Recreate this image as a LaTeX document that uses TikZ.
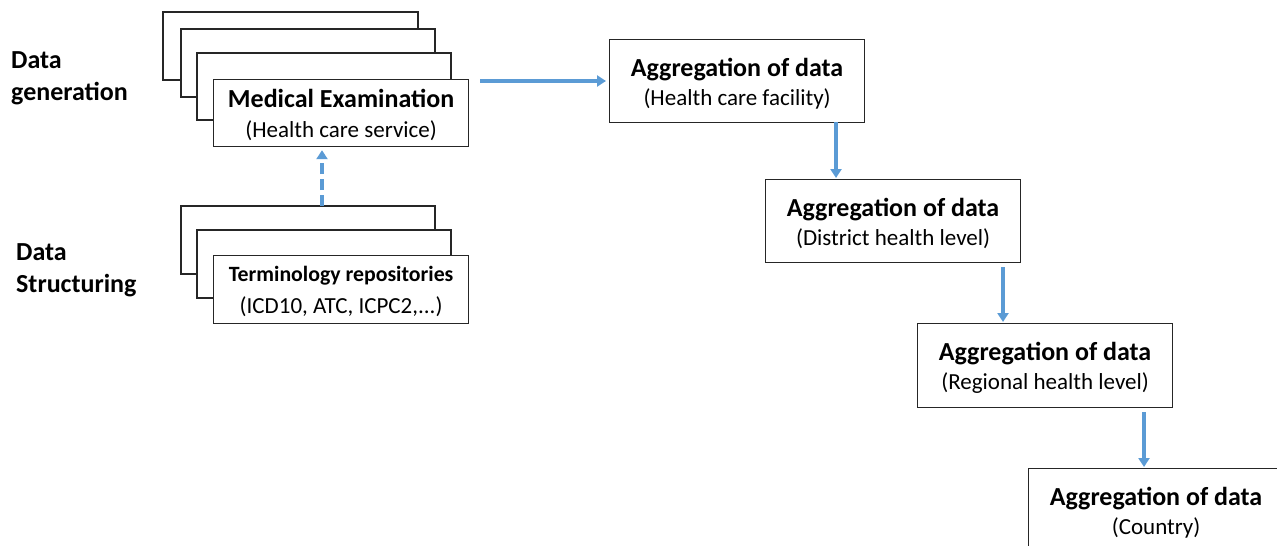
\documentclass[tikz,border=0pt]{standalone}
\usepackage{fontspec}
\setmainfont{Carlito}
\usetikzlibrary{arrows.meta}
\definecolor{flowblue}{HTML}{5B9BD5}
\tikzset{
  box/.style={draw=black!85, line width=1.2pt, fill=white, anchor=north west, align=center, inner sep=0pt},
  backbox/.style={draw=black!85, line width=1.2pt, fill=white},
  flow/.style={draw=flowblue, line width=3.2pt, -{Triangle[width=11pt,length=9pt]}},
  dflow/.style={flow, dash pattern=on 11pt off 5pt},
  side/.style={anchor=north west, align=left, font=\fontsize{26}{32}\selectfont\bfseries, inner sep=0pt}
}
% #1 size, #2 title, #3 subtitle, #4 strut height of title, #5 extra gap
\newcommand{\twolines}[5]{{\fontsize{#1}{#1}\selectfont\bfseries\rule[-7pt]{0pt}{#4}#2}\\[#5]{\fontsize{23}{23}\selectfont\rule[-6pt]{0pt}{18pt}#3}}
\begin{document}
\begin{tikzpicture}[x=1pt,y=-1pt]
\useasboundingbox (0,0) rectangle (1277,546);
% side labels
\node[side] (lgen) at (11,51) {Data\\generation};
\node[side] (lstr) at (16,243) {Data\\Structuring};
% medical examination stack
\draw[backbox] (163,12) rectangle (418,80);
\draw[backbox] (181,29) rectangle (435,97);
\draw[backbox] (197,53) rectangle (451,120);
\node[box, minimum width=255pt, minimum height=67pt] (med) at (213,79)
  {\twolines{26}{Medical Examination}{(Health care service)}{32pt}{5pt}};
% terminology stack
\draw[backbox] (181,206) rectangle (435,274);
\draw[backbox] (197,230) rectangle (451,298);
\node[box, minimum width=255pt, minimum height=68pt] (term) at (213,255)
  {\twolines{21.8}{Terminology repositories}{(ICD10, ATC, ICPC2,...)}{28pt}{7pt}};
% aggregation boxes
\node[box, minimum width=255pt, minimum height=83pt] (agg1) at (609,39)
  {\twolines{26}{Aggregation of data}{(Health care facility)}{32pt}{4pt}};
\node[box, minimum width=255pt, minimum height=83pt] (agg2) at (765,179)
  {\twolines{26}{Aggregation of data}{(District health level)}{32pt}{4pt}};
\node[box, minimum width=255pt, minimum height=84pt] (agg3) at (917,323)
  {\twolines{26}{Aggregation of data}{(Regional health level)}{32pt}{4pt}};
\node[box, minimum width=255pt, minimum height=84pt] (agg4) at (1028,468)
  {\twolines{26}{Aggregation of data}{(Country)}{32pt}{4pt}};
% connectors
\coordinate (dstart) at (322,206);
\draw[dflow] (dstart) -- ([yshift=-3pt]dstart |- med.south);
\coordinate (hstart) at (480,81);
\draw[flow] (hstart) -- ([xshift=-3pt]hstart -| agg1.west);
\coordinate (v1) at (836,122);
\draw[flow] (v1) -- ([yshift=1pt]v1 |- agg2.north);
\coordinate (v2) at (1003,267);
\draw[flow] (v2) -- ([yshift=1pt]v2 |- agg3.north);
\coordinate (v3) at (1144,412);
\draw[flow] (v3) -- ([yshift=1pt]v3 |- agg4.north);
\end{tikzpicture}
\end{document}
